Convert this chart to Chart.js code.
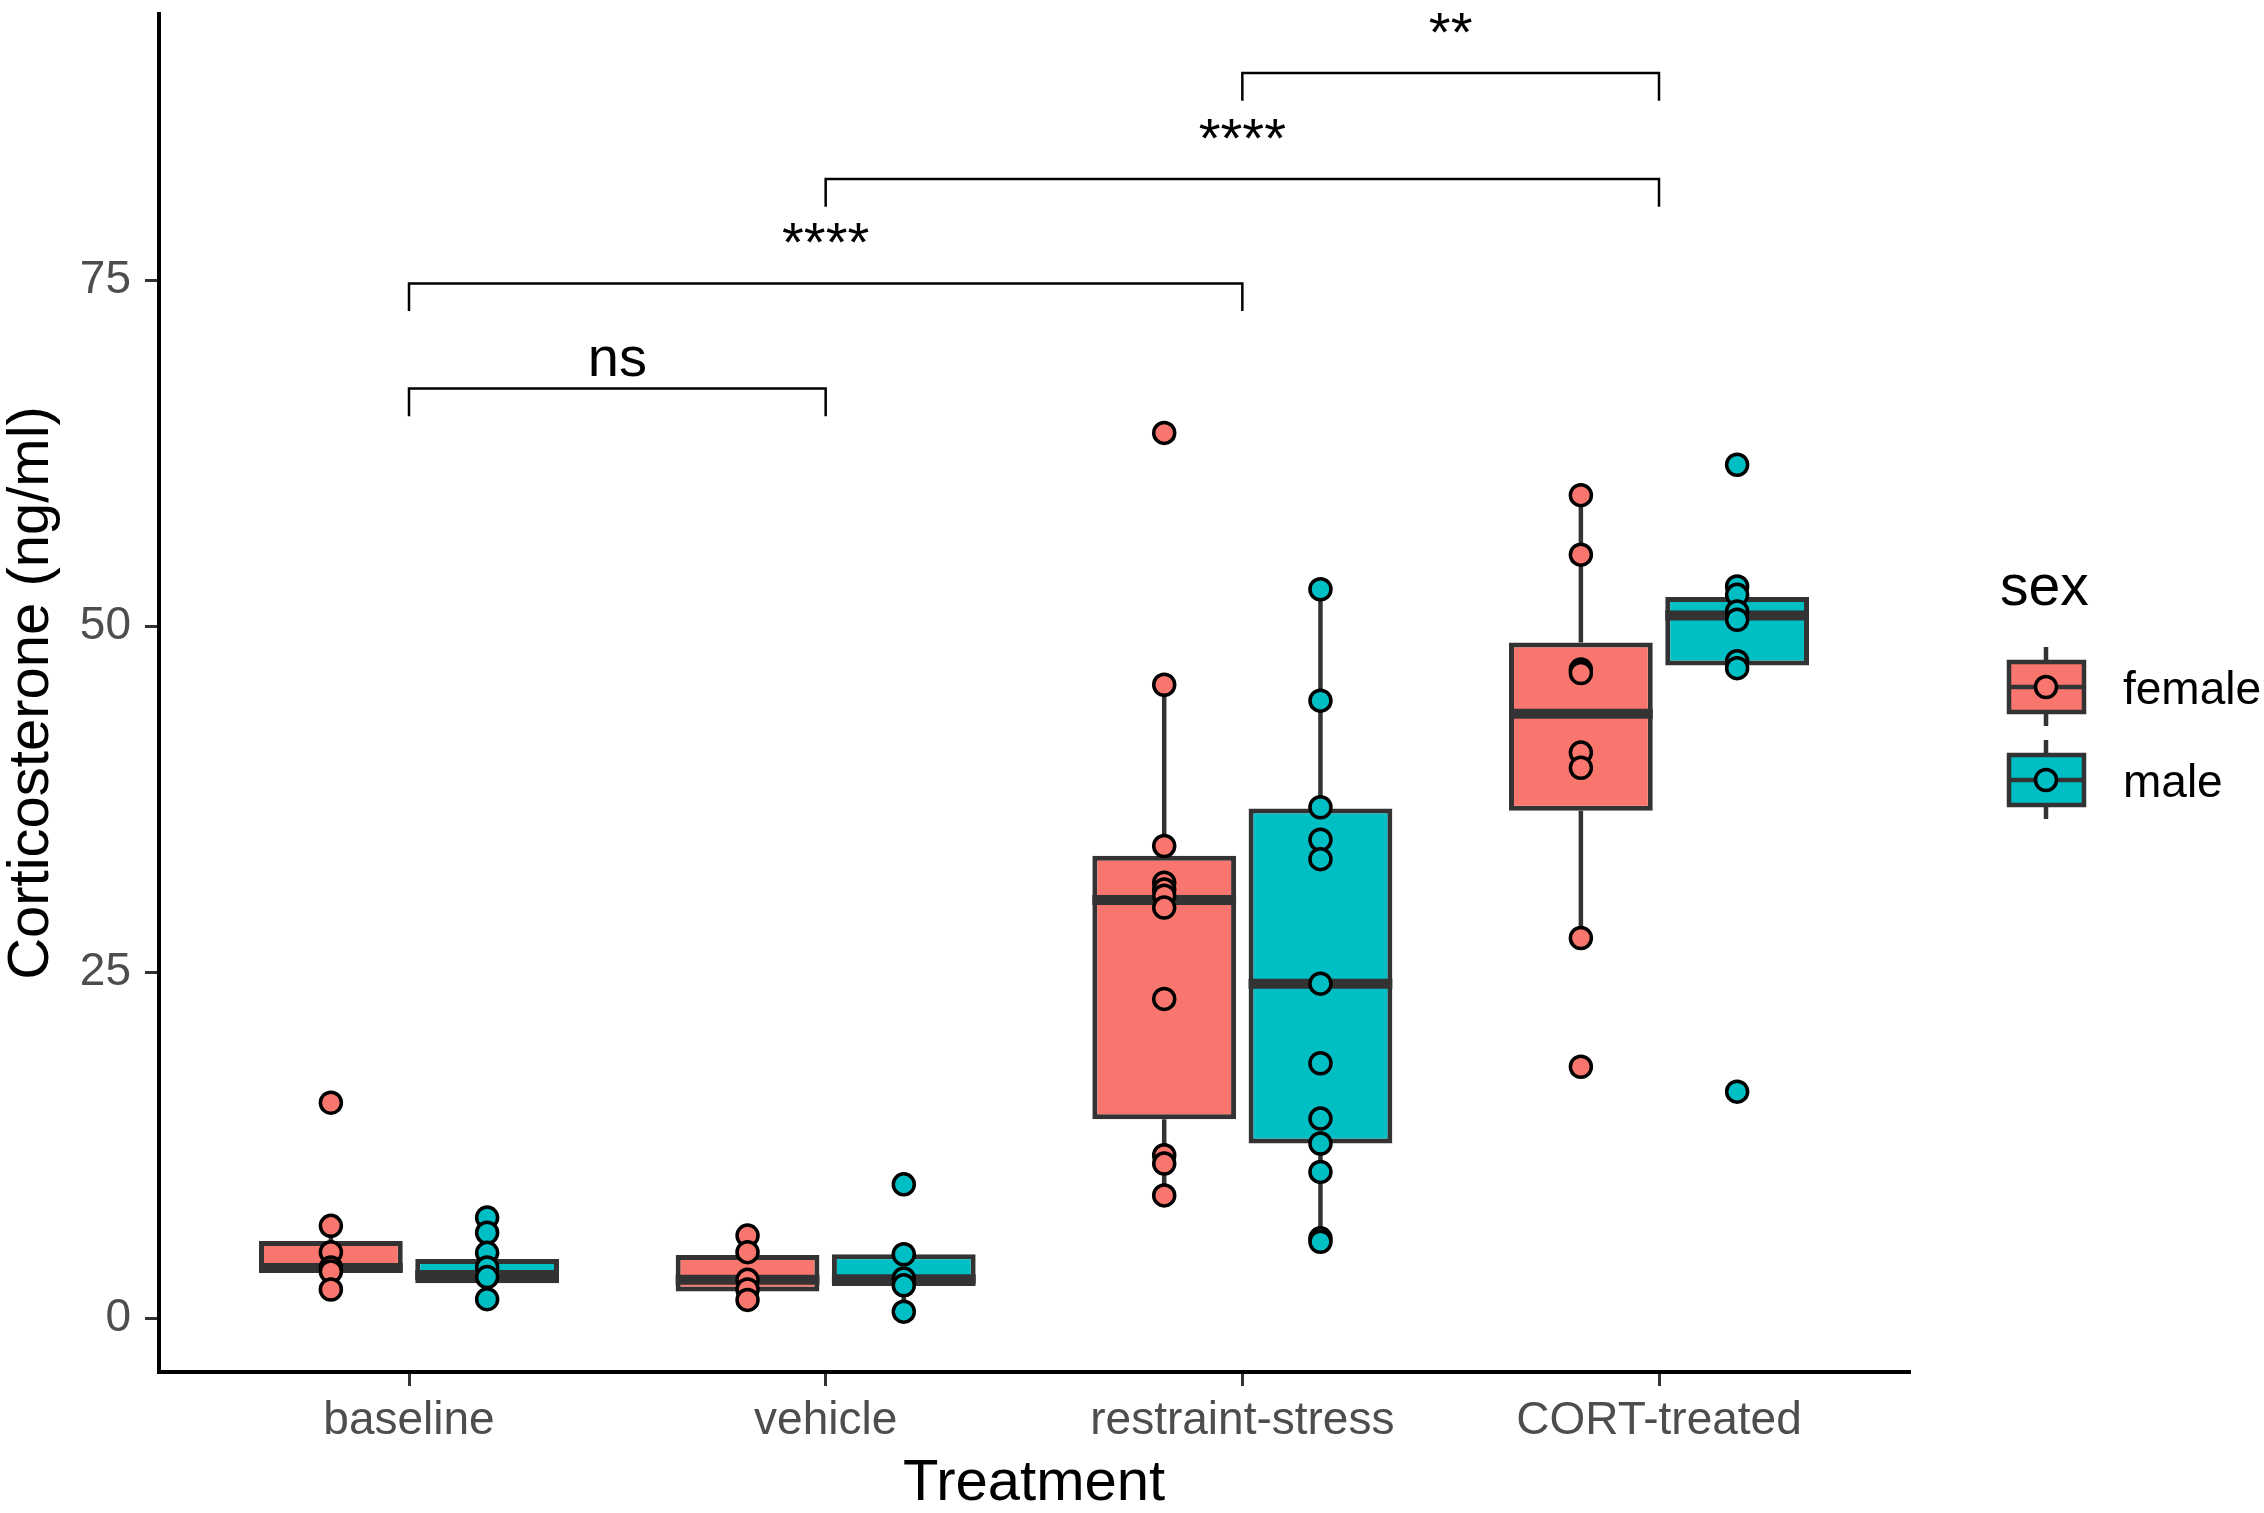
<!DOCTYPE html>
<html>
<head>
<meta charset="utf-8">
<script src="https://cdn.jsdelivr.net/npm/chart.js@4.4.0/dist/chart.umd.min.js"></script>
<style>
  html, body { margin: 0; padding: 0; background: #fff; }
  #wrap { width: 2264px; height: 1513px; }
</style>
</head>
<body>
<div id="wrap"><canvas id="chart" width="2264" height="1513"></canvas></div>
<script>
var categories = ['baseline', 'vehicle', 'restraint-stress', 'CORT-treated'];
var sexes = ['female', 'male'];
var sexColors = ['#F8766D', '#00BFC4'];
var yTicks = [0, 25, 50, 75];

// box stats per treatment: [lower whisker, q1, median, q3, upper whisker]
var femaleStats = [
    [2.1, 3.35, 3.65, 5.6, 6.7],
    [1.35, 1.95, 2.8, 4.6, 6.0],
    [8.9, 14.4, 30.25, 33.45, 45.8],
    [27.5, 36.7, 43.7, 48.85, 59.5]
];
var maleStats = [
    [1.4, 2.55, 3.15, 4.3, 7.3],
    [0.5, 2.35, 2.85, 4.65, 4.65],
    [5.55, 12.65, 24.2, 36.85, 52.7],
    [46.95, 47.2, 50.8, 52.15, 52.9]
];

// individual animals
var femaleValues = [
    [15.6, 6.7, 4.8, 3.7, 3.4, 2.1],
    [6.0, 4.8, 2.8, 2.1, 1.35],
    [64.0, 45.8, 34.15, 31.5, 31.0, 30.55, 29.7, 23.1, 11.8, 11.2, 8.9],
    [59.5, 55.2, 46.9, 46.65, 40.9, 39.8, 27.5, 18.2]
];
var maleValues = [
    [7.3, 6.2, 4.75, 3.7, 3.0, 1.4],
    [9.7, 4.65, 2.9, 2.4, 0.5],
    [52.7, 44.65, 36.95, 34.6, 33.2, 24.2, 18.45, 14.45, 12.65, 10.6, 5.8, 5.55],
    [61.7, 52.9, 52.3, 51.1, 50.5, 47.5, 47.0, 16.4]
];

// significance brackets (category index from / to, label, height)
var bracketFrom = [0, 0, 1, 2];
var bracketTo = [1, 2, 3, 3];
var bracketLabels = ['ns', '****', '****', '**'];
var bracketLevels = [67.2, 74.8, 82.35, 90.0];
var bracketTip = 2.0;

var FONT = '"Liberation Sans", Arial, Helvetica, sans-serif';
var categoryPct = 0.75;
var dodge = categoryPct / 4;

function boxData(stats) {
    return stats.map(function(s, i) {
        return { x: i + 1, y: [s[1], s[3]] };
    });
}

function pointData(values, shift) {
    var out = [];
    values.forEach(function(vals, i) {
        vals.forEach(function(v) {
            out.push({ x: i + 1 + shift, y: v });
        });
    });
    return out;
}

// whiskers + median for the box datasets
var boxExtras = {
    id: 'boxExtras',
    afterDatasetDraw: function(chart, args) {
        var ds = chart.data.datasets[args.index];
        if (!ds.stats) return;
        var y = chart.scales.y, ctx = chart.ctx;
        ctx.save();
        ctx.strokeStyle = '#333333';
        ctx.lineCap = 'butt';
        args.meta.data.forEach(function(bar, i) {
            var s = ds.stats[i];
            ctx.lineWidth = 4.5;
            ctx.beginPath();
            ctx.moveTo(bar.x, y.getPixelForValue(s[3]));
            ctx.lineTo(bar.x, y.getPixelForValue(s[4]));
            ctx.moveTo(bar.x, y.getPixelForValue(s[1]));
            ctx.lineTo(bar.x, y.getPixelForValue(s[0]));
            ctx.stroke();
            ctx.lineWidth = 10;
            ctx.beginPath();
            ctx.moveTo(bar.x - bar.width / 2, y.getPixelForValue(s[2]));
            ctx.lineTo(bar.x + bar.width / 2, y.getPixelForValue(s[2]));
            ctx.stroke();
        });
        ctx.restore();
    }
};

var brackets = {
    id: 'brackets',
    afterDatasetsDraw: function(chart) {
        var x = chart.scales.x, y = chart.scales.y, ctx = chart.ctx;
        ctx.save();
        ctx.strokeStyle = '#000';
        ctx.fillStyle = '#000';
        ctx.lineWidth = 2.5;
        ctx.font = '56px ' + FONT;
        ctx.textAlign = 'center';
        ctx.textBaseline = 'alphabetic';
        bracketLabels.forEach(function(lab, k) {
            var x1 = x.getPixelForValue(bracketFrom[k] + 1);
            var x2 = x.getPixelForValue(bracketTo[k] + 1);
            var yTop = y.getPixelForValue(bracketLevels[k]);
            var yLow = y.getPixelForValue(bracketLevels[k] - bracketTip);
            ctx.beginPath();
            ctx.moveTo(x1, yLow);
            ctx.lineTo(x1, yTop);
            ctx.lineTo(x2, yTop);
            ctx.lineTo(x2, yLow);
            ctx.stroke();
            // asterisks sit lower in this font than in the original one
            var lift = lab.charAt(0) === '*' ? 22 : 13;
            ctx.fillText(lab, (x1 + x2) / 2, yTop - lift);
        });
        ctx.restore();
    }
};

// ggplot style legend with little boxplot keys
var sexLegend = {
    id: 'sexLegend',
    afterDraw: function(chart) {
        var ctx = chart.ctx;
        var kx = 2046, left = 2009, w = 75, h = 50;
        var centers = [687, 780];
        ctx.save();
        ctx.fillStyle = '#000';
        ctx.font = '57px ' + FONT;
        ctx.textAlign = 'left';
        ctx.textBaseline = 'alphabetic';
        ctx.fillText('sex', 2000, 605);
        sexes.forEach(function(sex, i) {
            var cy = centers[i];
            ctx.strokeStyle = '#333333';
            ctx.lineWidth = 4.5;
            ctx.beginPath();
            ctx.moveTo(kx, cy - 40);
            ctx.lineTo(kx, cy + 39);
            ctx.stroke();
            ctx.fillStyle = sexColors[i];
            ctx.fillRect(left, cy - h / 2, w, h);
            ctx.strokeRect(left, cy - h / 2, w, h);
            ctx.beginPath();
            ctx.moveTo(left, cy);
            ctx.lineTo(left + w, cy);
            ctx.stroke();
            ctx.beginPath();
            ctx.arc(kx, cy, 10.5, 0, Math.PI * 2);
            ctx.fillStyle = sexColors[i];
            ctx.fill();
            ctx.strokeStyle = '#000';
            ctx.lineWidth = 3.5;
            ctx.stroke();
            ctx.fillStyle = '#000';
            ctx.font = '46px ' + FONT;
            ctx.fillText(sex, 2123, cy + 17);
        });
        ctx.restore();
    }
};

var ctx = document.getElementById('chart').getContext('2d');
var myChart = new Chart(ctx, {
    type: 'bar',
    data: {
        datasets: [{
            label: 'female box',
            data: boxData(femaleStats),
            stats: femaleStats,
            backgroundColor: sexColors[0],
            borderColor: '#333333',
            borderWidth: 5,
            borderSkipped: false,
            categoryPercentage: categoryPct,
            barPercentage: 0.92,
            order: 2
        }, {
            label: 'male box',
            data: boxData(maleStats),
            stats: maleStats,
            backgroundColor: sexColors[1],
            borderColor: '#333333',
            borderWidth: 5,
            borderSkipped: false,
            categoryPercentage: categoryPct,
            barPercentage: 0.92,
            order: 2
        }, {
            type: 'scatter',
            label: 'female',
            data: pointData(femaleValues, -dodge),
            pointRadius: 10.5,
            pointBackgroundColor: sexColors[0],
            pointBorderColor: '#000',
            pointBorderWidth: 3.5,
            order: 1
        }, {
            type: 'scatter',
            label: 'male',
            data: pointData(maleValues, dodge),
            pointRadius: 10.5,
            pointBackgroundColor: sexColors[1],
            pointBorderColor: '#000',
            pointBorderWidth: 3.5,
            order: 1
        }]
    },
    options: {
        responsive: false,
        devicePixelRatio: 1,
        animation: false,
        layout: { padding: { left: 0, right: 355, top: 11, bottom: 0 } },
        plugins: {
            legend: { display: false },
            tooltip: { enabled: false }
        },
        scales: {
            x: {
                type: 'linear',
                min: 0.4,
                max: 4.6,
                offset: false,
                grid: { display: true, offset: false, drawOnChartArea: false, drawTicks: true, tickLength: 14, color: '#333333', lineWidth: 3 },
                border: { display: true, color: '#000', width: 4 },
                afterBuildTicks: function(scale) {
                    scale.ticks = categories.map(function(c, i) { return { value: i + 1 }; });
                },
                afterFit: function(scale) {
                    scale.height = 141;
                    scale.paddingLeft = 0;
                    scale.paddingRight = 0;
                },
                ticks: {
                    autoSkip: false,
                    maxRotation: 0,
                    padding: 8,
                    color: '#4D4D4D',
                    font: { family: FONT, size: 46 },
                    callback: function(v) { return categories[v - 1]; }
                },
                title: {
                    display: true,
                    text: 'Treatment',
                    color: '#000',
                    font: { family: FONT, size: 58, lineHeight: 1.0 },
                    padding: { top: 0, bottom: 0 }
                }
            },
            y: {
                type: 'linear',
                min: -3.86,
                max: 94.27,
                beginAtZero: false,
                grid: { display: true, drawOnChartArea: false, drawTicks: true, tickLength: 14, color: '#333333', lineWidth: 3 },
                border: { display: true, color: '#000', width: 4 },
                afterBuildTicks: function(scale) {
                    scale.ticks = yTicks.map(function(v) { return { value: v }; });
                },
                afterFit: function(scale) {
                    scale.width = 159;
                    scale.paddingTop = 0;
                    scale.paddingBottom = 0;
                },
                ticks: {
                    padding: 14,
                    color: '#4D4D4D',
                    font: { family: FONT, size: 46 }
                },
                title: {
                    display: true,
                    text: 'Corticosterone (ng/ml)',
                    color: '#000',
                    font: { family: FONT, size: 58, lineHeight: 1.0 },
                    padding: { top: 3, bottom: 0 }
                }
            }
        }
    },
    plugins: [boxExtras, brackets, sexLegend]
});
</script>
</body>
</html>
